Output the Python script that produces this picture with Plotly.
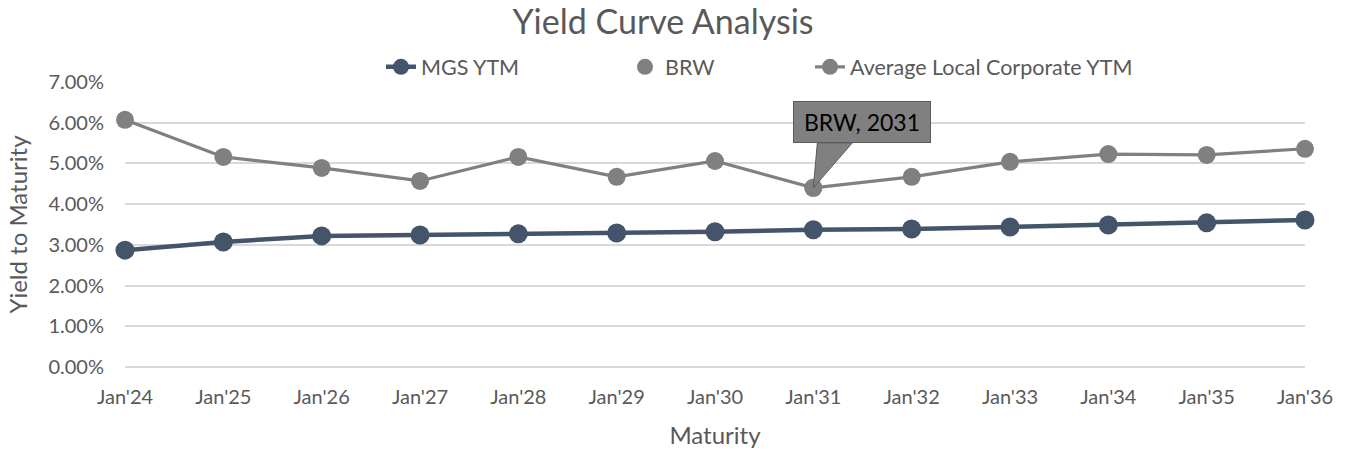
import plotly.graph_objects as go

categories = ["Jan'24", "Jan'25", "Jan'26", "Jan'27", "Jan'28", "Jan'29", "Jan'30",
              "Jan'31", "Jan'32", "Jan'33", "Jan'34", "Jan'35", "Jan'36"]
mgs_ytm = [2.87, 3.07, 3.22, 3.24, 3.27, 3.29, 3.32, 3.37, 3.39, 3.44, 3.49, 3.54, 3.61]
corp_ytm = [6.07, 5.16, 4.89, 4.57, 5.16, 4.67, 5.06, 4.40, 4.67, 5.04, 5.23, 5.21, 5.36]
brw_x = ["Jan'31"]
brw_y = [4.40]
y_ticks = [0, 1, 2, 3, 4, 5, 6, 7]
y_tick_text = ["%.2f%%" % v for v in y_ticks]

FONT = "Lato"
TXT = "#595959"

fig = go.Figure()
fig.add_trace(go.Scatter(
    x=categories, y=mgs_ytm, name="MGS YTM", mode="lines+markers",
    line=dict(color="#44546a", width=4.5),
    marker=dict(color="#44546a", size=19),
    cliponaxis=False, legend="legend",
))
fig.add_trace(go.Scatter(
    x=brw_x, y=brw_y, name="BRW", mode="markers",
    marker=dict(color="#808080", size=18),
    cliponaxis=False, legend="legend2",
))
fig.add_trace(go.Scatter(
    x=categories, y=corp_ytm, name="Average Local Corporate YTM", mode="lines+markers",
    line=dict(color="#808080", width=3.2),
    marker=dict(color="#808080", size=18),
    cliponaxis=False, legend="legend3",
))

# callout tail (pixel offsets relative to the BRW point)
fig.add_shape(
    type="path", xref="x", yref="y",
    xsizemode="pixel", ysizemode="pixel",
    xanchor=brw_x[0], yanchor=brw_y[0],
    path="M 0 0 L 4 45 L 39 45 Z",
    fillcolor="#808080", line=dict(color="#5a5a5a", width=1),
    layer="above",
)
fig.add_annotation(
    x=brw_x[0], y=brw_y[0], xref="x", yref="y",
    text="BRW, 2031", showarrow=False,
    xshift=49, yshift=66,
    bgcolor="#808080", bordercolor="#5a5a5a", borderwidth=1,
    borderpad=4, width=128, height=32,
    font=dict(family=FONT, size=23, color="#000000"),
)

LEG_Y = 1.053
leg_common = dict(orientation="h", y=LEG_Y, yanchor="middle", xanchor="left",
                  font=dict(family=FONT, size=21.5, color=TXT),
                  bgcolor="rgba(0,0,0,0)")

fig.update_layout(
    width=1353, height=452,
    paper_bgcolor="white", plot_bgcolor="white",
    margin=dict(l=125, r=48, t=82, b=85),
    title=dict(text="Yield Curve Analysis", x=0.49, xanchor="center",
               y=1 - 22 / 452, yanchor="middle", yref="container",
               font=dict(family=FONT, size=34, color=TXT)),
    font=dict(family=FONT, size=20, color=TXT),
    showlegend=True,
    legend=dict(x=(381 - 125) / 1180, **leg_common),
    legend2=dict(x=(625 - 125) / 1180, **leg_common),
    legend3=dict(x=(810 - 125) / 1180, **leg_common),
    xaxis=dict(type="category", categoryorder="array", categoryarray=categories,
               range=[0, 12], showgrid=False, showline=False, zeroline=False,
               ticks="", ticklabelstandoff=16, automargin=False,
               tickfont=dict(family=FONT, size=20, color=TXT),
               title=dict(text="Maturity", font=dict(family=FONT, size=24, color=TXT),
                          standoff=20)),
    yaxis=dict(range=[0, 7], tickvals=y_ticks, ticktext=y_tick_text,
               showgrid=True, gridcolor="#d9d9d9", gridwidth=1.5,
               zeroline=True, zerolinecolor="#d9d9d9", zerolinewidth=1.5,
               showline=False, ticks="", ticklabelstandoff=20, automargin=False,
               tickfont=dict(family=FONT, size=20, color=TXT),
               title=dict(text="Yield to Maturity", font=dict(family=FONT, size=24, color=TXT),
                          standoff=14)),
)

fig.write_html("out.html", config={"displayModeBar": False},
               post_script="document.body.style.margin='0';")
